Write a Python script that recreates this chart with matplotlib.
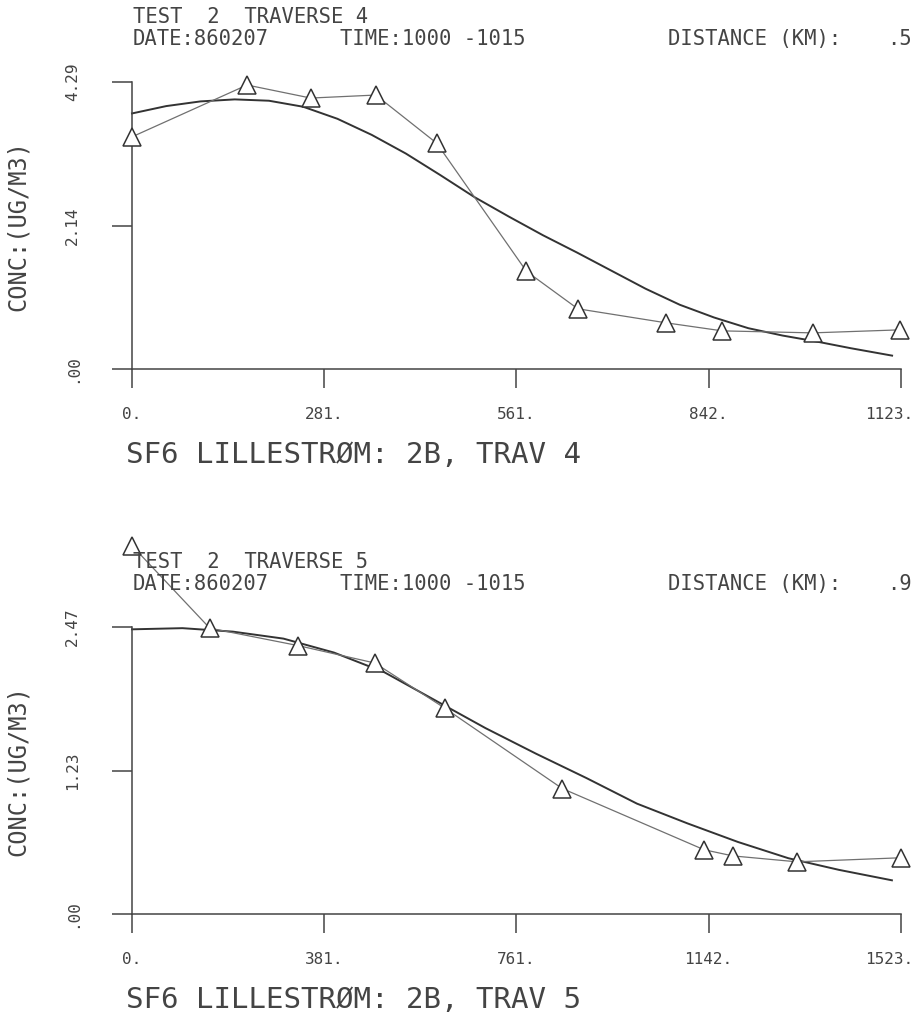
import matplotlib
matplotlib.use("Agg")
import matplotlib.pyplot as plt
from matplotlib.transforms import ScaledTranslation

# traverse 4 : measured points and fitted curve
trav4_x = [0, 168, 261, 356, 445, 576, 651, 780, 862, 994, 1121]
trav4_y = [3.47, 4.245, 4.05, 4.095, 3.375, 1.46, 0.90, 0.69, 0.57, 0.54, 0.585]
fit4_x = [0, 50, 100, 150, 200, 250, 300, 350, 400, 450, 500, 550, 600,
          650, 700, 750, 800, 850, 900, 950, 1000, 1050, 1110]
fit4_y = [3.82, 3.93, 4.00, 4.03, 4.01, 3.92, 3.74, 3.50, 3.22, 2.90, 2.57, 2.28, 2.00,
          1.74, 1.47, 1.20, 0.96, 0.77, 0.61, 0.50, 0.41, 0.31, 0.20]
xticks4 = [0, 281, 561, 842, 1123]
yticks4 = [0, 2.14, 4.29]

# traverse 5
trav5_x = [0, 154, 329, 481, 620, 852, 1133, 1190, 1317, 1523]
trav5_y = [3.17, 2.46, 2.31, 2.16, 1.77, 1.08, 0.553, 0.50, 0.449, 0.484]
fit5_x = [0, 100, 200, 300, 400, 500, 600, 700, 800, 900, 1000, 1100, 1200, 1300, 1400, 1505]
fit5_y = [2.45, 2.46, 2.43, 2.37, 2.25, 2.08, 1.84, 1.60, 1.38, 1.17, 0.95, 0.78, 0.62, 0.48, 0.38, 0.29]
xticks5 = [0, 381, 761, 1142, 1523]
yticks5 = [0, 1.23, 2.47]

W, H = 919, 1017
INK = "#444444"

plt.rcParams["font.family"] = ["DejaVu Sans Mono"]


def fx(x):
    return x / W


def fy(y):
    return 1 - y / H


def ylab(v):
    s = f"{v:.2f}"
    return s[1:] if s.startswith("0") else s


def draw_panel(fig, top, px, py, fitx, fity, xticks, yticks, trav, dist, title):
    ax = fig.add_axes([fx(132), fy(top + 287), 769 / W, 287 / H])
    ax.plot(fitx, fity, color="#333333", lw=1.4, clip_on=False, zorder=2)
    ax.plot(px, py, color="#707070", lw=0.9, marker="^", ms=13,
            mfc="white", mec="#333333", mew=1.1, clip_on=False, zorder=3)

    ax.set_xlim(xticks[0], xticks[-1])
    ax.set_ylim(yticks[0], yticks[-1])
    ax.set_xticks(xticks, [f"{t}." for t in xticks])
    ax.set_yticks(yticks, [ylab(t) for t in yticks], rotation=90, va="center")
    for s in ["top", "right"]:
        ax.spines[s].set_visible(False)
    for s in ["left", "bottom"]:
        ax.spines[s].set_color(INK)
        ax.spines[s].set_linewidth(1.1)
    ax.tick_params(axis="x", direction="out", length=13.7, width=1.1, color=INK,
                   labelsize=11.5, labelcolor=INK, pad=14)
    ax.tick_params(axis="y", direction="out", length=14.4, width=1.1, color=INK,
                   labelsize=11.5, labelcolor=INK, pad=23)
    last = ax.get_xticklabels()[-1]
    last.set_transform(last.get_transform() + ScaledTranslation(-12 / 100, 0, fig.dpi_scale_trans))

    ax.set_ylabel("CONC:(UG/M3)", fontsize=17, color=INK)
    ax.yaxis.set_label_coords(-0.133, 0.5)

    hs = 14.8
    fig.text(fx(133), fy(top - 59), f"TEST  2  TRAVERSE {trav}", fontsize=hs, color=INK, va="baseline")
    fig.text(fx(133), fy(top - 37), "DATE:860207", fontsize=hs, color=INK, va="baseline")
    fig.text(fx(340), fy(top - 37), "TIME:1000 -1015", fontsize=hs, color=INK, va="baseline")
    fig.text(fx(668), fy(top - 37), "DISTANCE (KM):", fontsize=hs, color=INK, va="baseline")
    fig.text(fx(912), fy(top - 37), dist, fontsize=hs, color=INK, va="baseline", ha="right")
    fig.text(fx(126), fy(top + 381), title, fontsize=21, color=INK, va="baseline")
    return ax


fig = plt.figure(figsize=(W / 100, H / 100), dpi=100)
draw_panel(fig, 82, trav4_x, trav4_y, fit4_x, fit4_y, xticks4, yticks4, 4, ".5",
           "SF6 LILLESTRØM: 2B, TRAV 4")
draw_panel(fig, 627, trav5_x, trav5_y, fit5_x, fit5_y, xticks5, yticks5, 5, ".9",
           "SF6 LILLESTRØM: 2B, TRAV 5")
fig.savefig("out.png", dpi=100)
